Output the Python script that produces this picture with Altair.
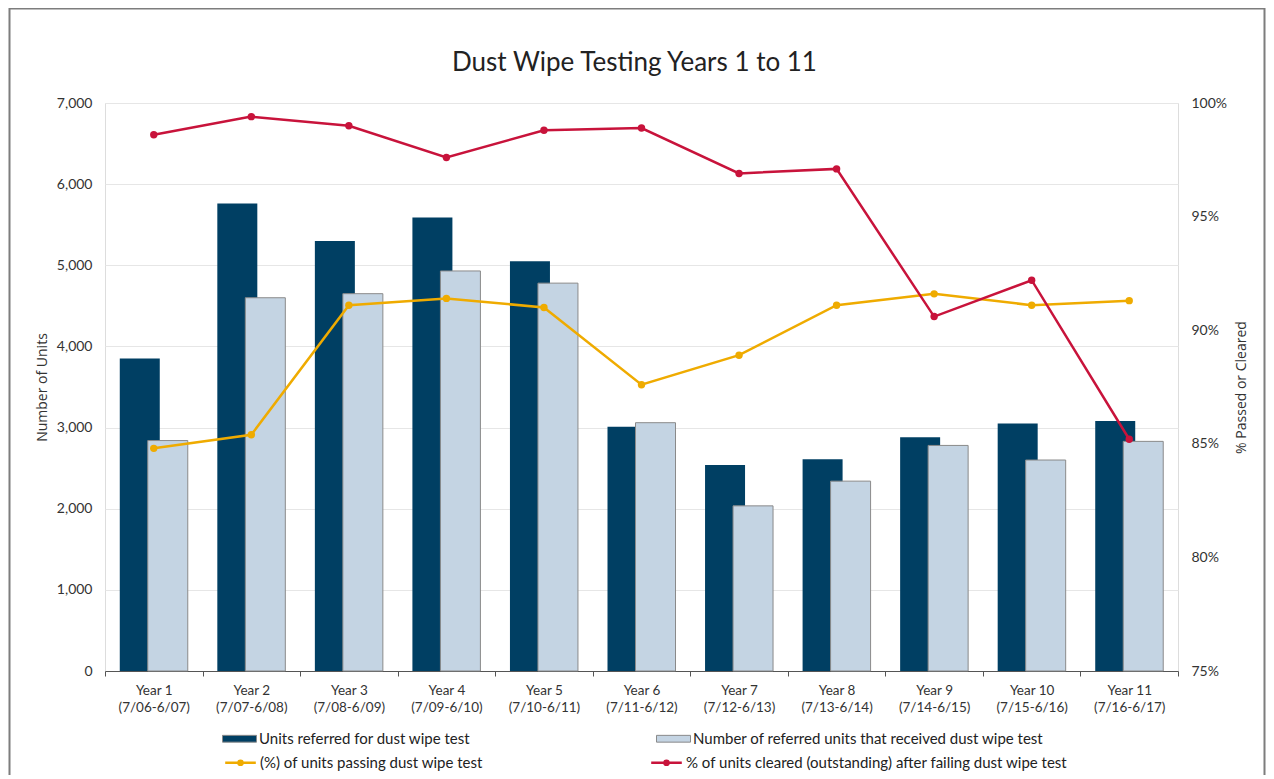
import altair as alt
import pandas as pd

years = ["Year 1", "Year 2", "Year 3", "Year 4", "Year 5", "Year 6",
         "Year 7", "Year 8", "Year 9", "Year 10", "Year 11"]
periods = ["(7/06-6/07)", "(7/07-6/08)", "(7/08-6/09)", "(7/09-6/10)",
           "(7/10-6/11)", "(7/11-6/12)", "(7/12-6/13)", "(7/13-6/14)",
           "(7/14-6/15)", "(7/15-6/16)", "(7/16-6/17)"]
referred = [3850, 5760, 5300, 5590, 5050, 3010, 2540, 2610, 2880, 3050, 3080]
received = [2840, 4600, 4650, 4930, 4780, 3060, 2035, 2340, 2780, 2600, 2830]
pct_pass = [84.8, 85.4, 91.1, 91.4, 91.0, 87.6, 88.9, 91.1, 91.6, 91.1, 91.3]
pct_cleared = [98.6, 99.4, 99.0, 97.6, 98.8, 98.9, 96.9, 97.1, 90.6, 92.2, 85.2]

LAB_REF = "Units referred for dust wipe test"
LAB_REC = "Number of referred units that received dust wipe test"
LAB_PASS = "(%) of units passing dust wipe test"
LAB_CLR = "% of units cleared (outstanding) after failing dust wipe test"

NAVY = "#003f63"
LIGHT = "#c4d4e3"
YELLOW = "#efab00"
RED = "#c8133b"
FONT = "Lato"
TFONT = "Open Sans"

df = pd.DataFrame({
    "label": [f"{y}|{p}" for y, p in zip(years, periods)],
    "referred": referred,
    "received": received,
    "pass": [v / 100 for v in pct_pass],
    "cleared": [v / 100 for v in pct_cleared],
})

W, H = 1073, 568

x_enc = alt.X(
    "label:N", sort=None,
    scale=alt.Scale(paddingInner=0, paddingOuter=0),
    axis=alt.Axis(
        title=None, labelExpr="split(datum.label, '|')", labelAngle=0,
        labelFont=FONT, labelFontSize=13.5, labelColor="#333333",
        labelLineHeight=17, labelPadding=7, labelBaseline="top",
        tickSize=5, tickColor="#555555", domainColor="#555555",
        tickBand="extent", grid=False,
    ),
)

left_axis = alt.Axis(
    values=[0, 1000, 2000, 3000, 4000, 5000, 6000, 7000], format=",d",
    title="Number of Units", titleFont=TFONT, titleFontSize=14,
    titleFontWeight="normal", titleColor="#333333", titlePadding=7,
    labelFont=FONT, labelFontSize=14, labelColor="#333333", labelPadding=13,
    grid=True, gridColor="#e6e6e6", gridWidth=1, domain=False, ticks=False,
)
right_axis = alt.Axis(
    orient="right", values=[0.75, 0.8, 0.85, 0.9, 0.95, 1.0], format=".0%",
    title="% Passed or Cleared", titleFont=TFONT, titleFontSize=14,
    titleFontWeight="normal", titleColor="#333333", titlePadding=22,
    titleAngle=270,
    labelFont=FONT, labelFontSize=14, labelColor="#333333", labelPadding=13,
    grid=False, domain=False, ticks=False,
)
yl_scale = alt.Scale(domain=[0, 7000], nice=False)
yr_scale = alt.Scale(domain=[0.75, 1.0], nice=False)

fill_scale = alt.Scale(domain=[LAB_REF, LAB_REC], range=[NAVY, LIGHT])
fill_legend = alt.Legend(
    title=None, orient="none", legendX=117, legendY=618,
    direction="horizontal", columns=2, columnPadding=183,
    symbolType="M-1,-0.2H1V0.2H-1Z", symbolSize=1156,
    symbolStrokeColor="#8a8a8a", symbolStrokeWidth=1,
    labelFont=FONT, labelFontSize=15, labelColor="#222222", labelOffset=2,
    labelLimit=400,
)
stroke_scale = alt.Scale(domain=[LAB_PASS, LAB_CLR], range=[YELLOW, RED])
stroke_legend = alt.Legend(
    title=None, orient="none", legendX=117, legendY=641,
    direction="horizontal", columns=2, columnPadding=163,
    symbolType="M-0.9,0H0.9M-0.12,0A0.12,0.12 0 1,1 0.12,0A0.12,0.12 0 1,1 -0.12,0Z",
    symbolSize=1156, symbolStrokeWidth=2.6,
    labelFont=FONT, labelFontSize=15, labelColor="#222222", labelOffset=1,
    labelLimit=450,
)

base = alt.Chart(df)

dark = base.mark_bar(width=40, xOffset=-14).transform_calculate(
    series=f"'{LAB_REF}'"
).encode(
    x=x_enc,
    y=alt.Y("referred:Q", scale=yl_scale, axis=left_axis),
    fill=alt.Fill("series:N", scale=fill_scale, legend=fill_legend),
)
light = base.mark_bar(width=40, xOffset=14, stroke="#8a8a8a", strokeWidth=1).transform_calculate(
    series=f"'{LAB_REC}'"
).encode(
    x=x_enc,
    y=alt.Y("received:Q", scale=yl_scale, axis=left_axis),
    fill=alt.Fill("series:N", scale=fill_scale, legend=fill_legend),
)
bars = alt.layer(dark, light)

line_pass = base.mark_line(strokeWidth=2.5).transform_calculate(
    series=f"'{LAB_PASS}'"
).encode(
    x=x_enc,
    y=alt.Y("pass:Q", scale=yr_scale, axis=right_axis),
    stroke=alt.Stroke("series:N", scale=stroke_scale, legend=stroke_legend),
)
line_clr = base.mark_line(strokeWidth=2.5).transform_calculate(
    series=f"'{LAB_CLR}'"
).encode(
    x=x_enc,
    y=alt.Y("cleared:Q", scale=yr_scale, axis=right_axis),
    stroke=alt.Stroke("series:N", scale=stroke_scale, legend=stroke_legend),
)
pts_pass = base.mark_circle(size=55, color=YELLOW, opacity=1).encode(
    x=x_enc, y=alt.Y("pass:Q", scale=yr_scale, axis=right_axis),
)
pts_clr = base.mark_circle(size=55, color=RED, opacity=1).encode(
    x=x_enc, y=alt.Y("cleared:Q", scale=yr_scale, axis=right_axis),
)
lines = alt.layer(line_pass, pts_pass, line_clr, pts_clr)

frame = alt.Chart(alt.Data(values=[{"f": 1}])).mark_rect(
    fillOpacity=0, stroke="#7d7d7d", strokeWidth=2
).encode(
    x=alt.value(-95.5), x2=alt.value(1159.5), y=alt.value(-94.5), y2=alt.value(900)
)

chart = alt.layer(frame, bars, lines).resolve_scale(y="independent").properties(
    width=W, height=H,
    title=alt.TitleParams(
        "Dust Wipe Testing Years 1 to 11", font=FONT, fontSize=26,
        fontWeight="normal", color="#222222", offset=-68, dx=-7,
    ),
    autosize=alt.AutoSizeParams(type="none"),
    padding={"left": 97, "top": 95, "right": 88, "bottom": 104},
).configure_view(stroke=None).configure(background="white")

chart.save("out.html", embed_options={"renderer": "svg", "actions": False})
